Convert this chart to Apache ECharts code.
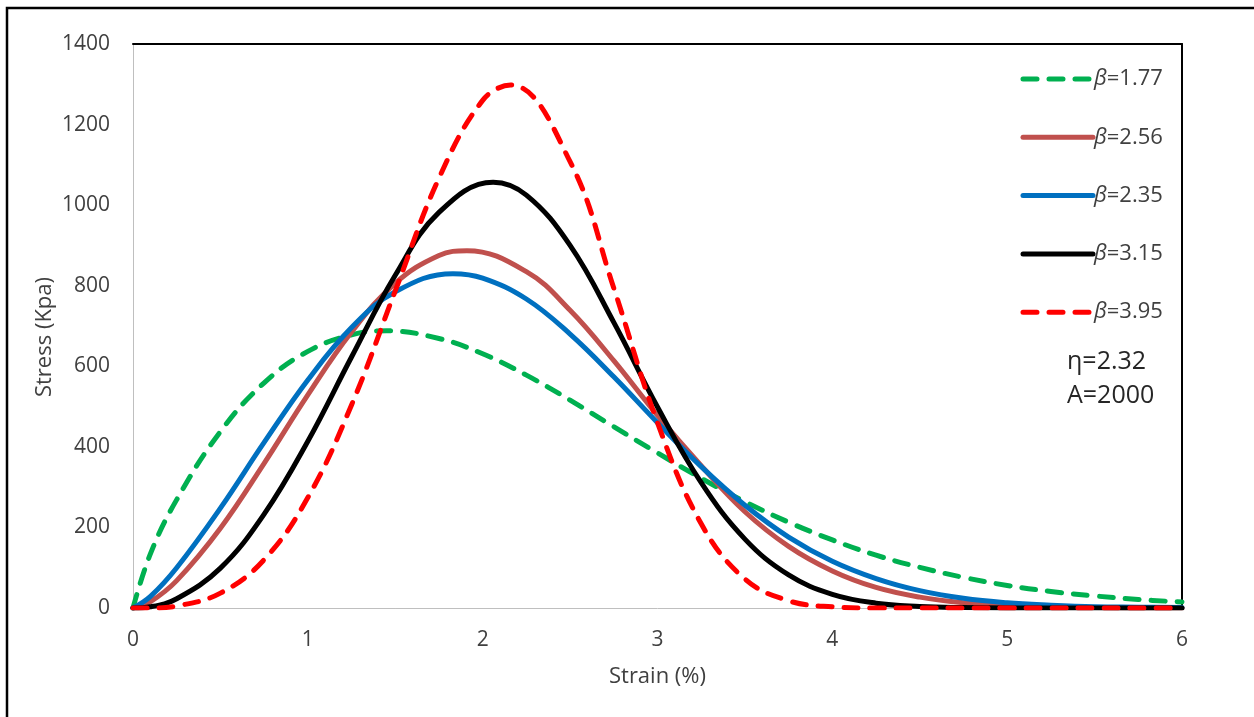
<!DOCTYPE html>
<html>
<head>
<meta charset="utf-8">
<script src="https://cdn.jsdelivr.net/npm/echarts@6/dist/echarts.min.js"></script>
<style>
html,body{margin:0;padding:0;background:#fff;}
#chart{width:1254px;height:717px;}
</style>
</head>
<body>
<div id="chart"></div>
<script>
// Strain (%) sample points
const strain = [0,0.1,0.25,0.5,0.75,1,1.25,1.5,1.75,2,2.25,2.5,2.75,3,3.25,3.5,3.75,4,4.25,4.5,4.75,5,5.25,5.5,5.75,6];
// Stress (Kpa) values read for each curve
const beta177 = [0,135,269,438,559,637,678,687,669,631,578,516,450,385,322,264,213,169,131,101,76,56,41,30,21,15];
const beta256 = [0,16,68,198,359,529,685,806,875,884,835,739,614,478,353,239,153,92,51,27,13,6,2,1,0,0];
const beta235 = [0,29,100,248,411,566,696,785,827,819,767,680,574,460,351,255,176,116,73,43,24,13,7,3,2,1];
const beta315 = [0,3,23,99,233,414,623,826,982,1055,1025,900,709,499,311,171,82,34,12,4,1,0,0,0,0,0];
const beta395 = [0,0,5,37,120,274,504,787,1067,1260,1283,1108,794,460,209,72,18,3,0,0,0,0,0,0,0,0];
// peak points of each curve [strain, stress]
const peak177 = [1.45,688];
const peak256 = [1.91,887];
const peak235 = [1.83,830];
const peak315 = [2.06,1057];
const peak395 = [2.16,1298];
const seriesNames = ['β=1.77','β=2.56','β=2.35','β=3.15','β=3.95'];
const xTicks = [0,1,2,3,4,5,6];
const yTicks = [0,200,400,600,800,1000,1200,1400];
const noteLines = ['η=2.32','A=2000'];

function build(vals, peak){
  const pts = [];
  strain.forEach((x,i)=>{ if (Math.abs(x-peak[0]) >= 0.1) pts.push([x, vals[i]]); });
  pts.push(peak.slice());
  pts.sort((a,b)=>a[0]-b[0]);
  return pts;
}

const colors = ['#00b050','#c0504d','#0070c0','#000000','#ff0000'];
const dashed = [true,false,false,false,true];
const datasets = [build(beta177,peak177),build(beta256,peak256),build(beta235,peak235),build(beta315,peak315),build(beta395,peak395)];

const FONT = "'Open Sans', 'Noto Sans', sans-serif";
const chart = echarts.init(document.getElementById('chart'));
const option = {
  animation:false,
  backgroundColor:'#ffffff',
  grid:{left:133,right:72,top:44,bottom:109,containLabel:false},
  xAxis:[{
    type:'value',min:xTicks[0],max:xTicks[xTicks.length-1],interval:1,
    name:'Strain (%)',nameLocation:'middle',nameGap:58,
    nameTextStyle:{fontFamily:FONT,fontSize:22,color:'#404040'},
    axisLine:{show:true,lineStyle:{color:'#bfbfbf',width:1}},
    axisTick:{show:false},splitLine:{show:false},
    axisLabel:{fontFamily:FONT,fontSize:21,color:'#404040',margin:22}
  },{
    type:'value',position:'top',min:0,max:6,interval:1,
    axisLine:{show:true,onZero:false,lineStyle:{color:'#000',width:2}},
    axisTick:{show:false},axisLabel:{show:false},splitLine:{show:false}
  }],
  yAxis:[{
    type:'value',min:yTicks[0],max:yTicks[yTicks.length-1],interval:200,
    axisLine:{show:true,lineStyle:{color:'#bfbfbf',width:1}},
    axisTick:{show:false},splitLine:{show:false},
    axisLabel:{fontFamily:FONT,fontSize:21,color:'#404040',margin:23,formatter:function(v){return String(v);}}
  },{
    type:'value',position:'right',min:0,max:1400,interval:200,
    axisLine:{show:true,onZero:false,lineStyle:{color:'#000',width:2}},
    axisTick:{show:false},axisLabel:{show:false},splitLine:{show:false}
  }],
  legend:{
    orient:'vertical',left:1015.5,top:61,
    itemWidth:70,itemHeight:14,itemGap:32.3,
    data:seriesNames,
    itemStyle:{opacity:0},
    lineStyle:{width:5,cap:'round'},
    formatter:function(n){return '{i|β}'+n.slice(1);},
    textStyle:{fontFamily:FONT,fontSize:22,color:'#404040',lineHeight:26,padding:[0,0,0,-4],
      rich:{i:{fontFamily:FONT,fontSize:22,fontStyle:'italic',color:'#404040'}}}
  },
  graphic:[
    {type:'rect',shape:{x:7,y:8,width:1300,height:800},style:{fill:'none',stroke:'#000',lineWidth:2.5},silent:true},
    {type:'text',x:45,y:337,rotation:Math.PI/2,style:{text:'Stress (Kpa)',fontFamily:FONT,fontSize:22,fill:'#404040',align:'center',verticalAlign:'middle'}},
    {type:'text',left:1067,top:349,style:{text:noteLines[0],fontFamily:FONT,fontSize:25,fill:'#262626'}},
    {type:'text',left:1067,top:383,style:{text:noteLines[1],fontFamily:FONT,fontSize:25,fill:'#262626'}}
  ],
  series:datasets.map((d,i)=>({
    name:seriesNames[i],type:'line',data:d,smooth:0.4,symbol:'none',showSymbol:false,
    xAxisIndex:0,yAxisIndex:0,
    lineStyle:{color:colors[i],width:5,type:dashed[i]?[14,12]:'solid',cap:'round',join:'round'},
    itemStyle:{color:colors[i]},
    z:2+i
  }))
};
chart.setOption(option);
</script>
</body>
</html>
